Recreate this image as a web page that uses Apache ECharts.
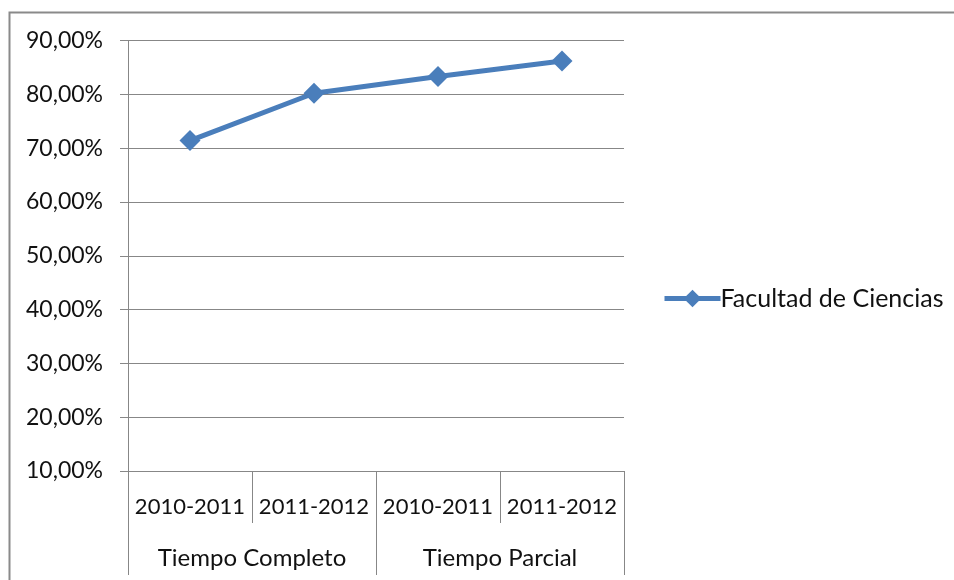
<!DOCTYPE html>
<html>
<head>
<meta charset="utf-8">
<script src="https://cdn.jsdelivr.net/npm/echarts@6/dist/echarts.min.js"></script>
<style>html,body{margin:0;padding:0;background:#fff}#c{width:954px;height:580px}</style>
</head>
<body>
<div id="c"></div>
<script>
const categories = ['2010-2011', '2011-2012', '2010-2011', '2011-2012'];
const groups = ['Tiempo Completo', 'Tiempo Parcial'];
const seriesName = 'Facultad de Ciencias';
const values = [71.4, 80.2, 83.3, 86.2];
const yTicks = [10, 20, 30, 40, 50, 60, 70, 80, 90];

const FONT = 'Lato';
const TXT = '#111';
const GRID = '#878787';
const BLUE = '#4A7EBB';
const chart = echarts.init(document.getElementById('c'), null, {renderer: 'canvas'});
chart.setOption({
  animation: false,
  backgroundColor: '#fff',
  textStyle: {fontFamily: FONT},
  graphic: [{
    type: 'rect', left: 7, top: 10, z: 100,
    shape: {x: 0, y: 0, width: 1000, height: 1000},
    style: {fill: 'none', stroke: '#8a8a8a', lineWidth: 2}
  }],
  grid: {left: 128, right: 330, top: 40.5, bottom: 109, containLabel: false},
  legend: {
    orient: 'vertical', left: 662, top: 286, padding: 0,
    itemWidth: 56, itemHeight: 22, itemGap: 0,
    data: [seriesName],
    lineStyle: {width: 5, color: BLUE},
    textStyle: {fontFamily: FONT, fontSize: 25, color: TXT, padding: [0, 0, 0, -5]}
  },
  xAxis: [{
    type: 'category', data: categories, position: 'bottom',
    boundaryGap: true,
    axisLine: {show: true, lineStyle: {color: GRID, width: 1}},
    axisTick: {show: true, interval: 0, length: 52, lineStyle: {color: GRID}},
    axisLabel: {interval: 0, margin: 25, fontFamily: FONT, fontSize: 22, color: TXT},
    splitLine: {show: false}
  }, {
    type: 'category', data: groups, position: 'bottom',
    boundaryGap: true,
    axisLine: {show: false},
    axisTick: {show: true, interval: 0, length: 104, lineStyle: {color: GRID}},
    axisLabel: {interval: 0, margin: 75, fontFamily: FONT, fontSize: 24, color: TXT},
    splitLine: {show: false}
  }],
  yAxis: {
    type: 'value', min: yTicks[0], max: yTicks[yTicks.length - 1], interval: 10,
    axisLine: {show: true, lineStyle: {color: GRID, width: 1}},
    axisTick: {show: true, length: 8, lineStyle: {color: GRID}},
    axisLabel: {margin: 25, fontFamily: FONT, fontSize: 23, color: TXT,
      formatter: v => v.toFixed(2).replace('.', ',') + '%'},
    splitLine: {show: true, lineStyle: {color: GRID, width: 1}}
  },
  series: [{
    name: seriesName, type: 'line', data: values,
    symbol: 'diamond', symbolSize: 21,
    lineStyle: {color: BLUE, width: 5},
    itemStyle: {color: BLUE}
  }]
});
</script>
</body>
</html>
